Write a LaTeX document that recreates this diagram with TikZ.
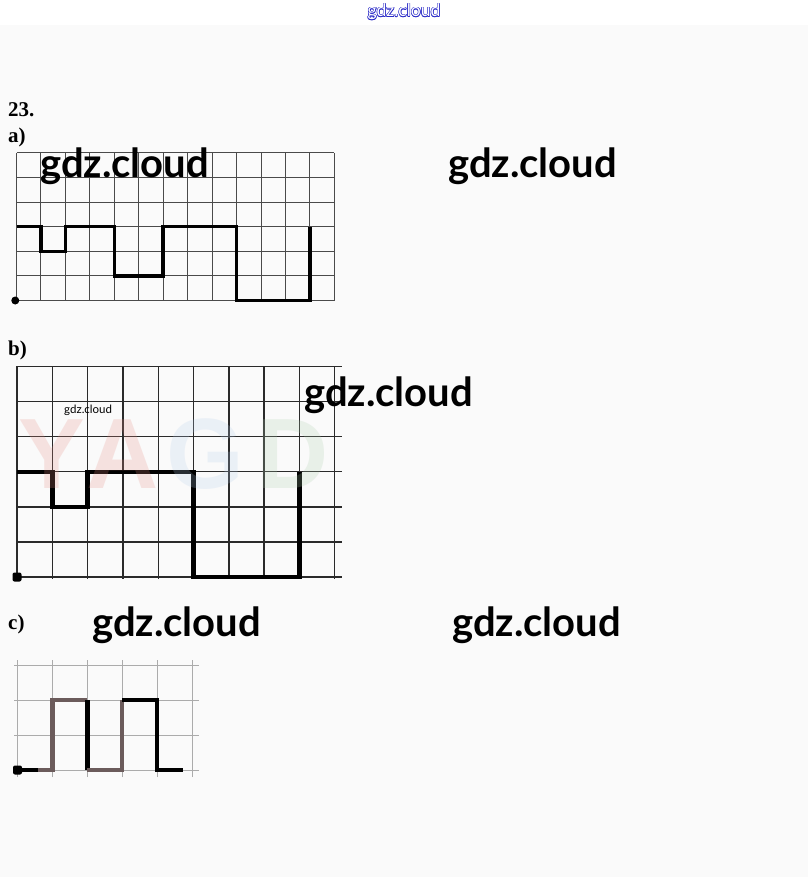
\documentclass[tikz,border=0pt]{standalone}
\usepackage{fontspec}
\setmainfont{Liberation Serif}
\newfontfamily\latofont{Lato}
\newfontfamily\wmsans{Liberation Sans}
\usepackage{xcolor}
\definecolor{pagegray}{HTML}{FAFAFA}
\definecolor{gridgray}{HTML}{4A4A4A}
\definecolor{griddark}{HTML}{2A2A2A}
\definecolor{gridlight}{HTML}{ABABAB}
\definecolor{tracebrown}{HTML}{6B5B5B}
\definecolor{linkblue}{HTML}{2A2AC8}
\definecolor{wmred}{HTML}{E68C82}
\definecolor{wmblue}{HTML}{B4CDEB}
\definecolor{wmgreen}{HTML}{AACDAA}
\tikzset{
  grid line/.style={draw=gridgray,line width=1pt},
  dark grid line/.style={draw=griddark,line width=1.4pt},
  light grid line/.style={draw=gridlight,line width=0.9pt},
  trace/.style={draw=black,line width=3.6pt,line join=miter},
  thick trace/.style={draw=black,line width=4.4pt,line join=miter},
  start dot/.style={circle,fill=black,inner sep=0pt,minimum size=8pt},
  start square/.style={rectangle,rounded corners=2pt,fill=black,inner sep=0pt,minimum size=9pt},
  part label/.style={anchor=base west,inner sep=0pt,font=\bfseries\fontsize{21}{21}\selectfont},
  site text/.style={anchor=base west,inner sep=0pt,font=\latofont\bfseries\fontsize{40}{40}\selectfont},
  small site text/.style={anchor=base west,inner sep=0pt,font=\latofont\fontsize{11.5}{12}\selectfont},
  link text/.style={anchor=base,inner sep=0pt,font=\latofont\fontsize{17.5}{17.5}\selectfont},
  letter/.style={anchor=base west,inner sep=0pt,opacity=0.22,font=\wmsans\bfseries\fontsize{100}{100}\selectfont}
}
\begin{document}
\begin{tikzpicture}[x=1pt,y=-1pt]
  \useasboundingbox (0,0) rectangle (808,877);
  \fill[white] (0,0) rectangle (808,25);
  \fill[pagegray] (0,25) rectangle (808,877);

  % outlined link at the top
  \foreach \a [count=\k] in {0,45,...,315}
    \node[link text,text=linkblue,shift={(\a:0.6)}] (lk\k) at (404,17) {gdz.cloud};
  \node[link text,text=white] (link) at (404,17) {gdz.cloud};

  % labels
  \node[part label] (num) at (8,117) {23.};
  \node[part label] (parta) at (8,143) {a)};
  \node[part label] (partb) at (8,355) {b)};
  \node[part label] (partc) at (8,629) {c)};

  % a)
  \begin{scope}[shift={(16.5,300.5)},x=24.45pt,y=24.6pt]
    \foreach \i in {0,...,13}
      \draw[grid line] (\i,0) -- (\i,6);
    \foreach \j in {0,...,6}
      \draw[grid line] (0,\j) -- (13,\j);
    \draw[trace] (0,3) -- (1,3) -- (1,2) -- (2,2) -- (2,3) -- (4,3) -- (4,1)
      -- (6,1) -- (6,3) -- (9,3) -- (9,0) -- (12,0) -- (12,3);
    \node[start dot] (dota) at (-0.05,0) {};
  \end{scope}

  % b)
  \begin{scope}[shift={(17,577)},x=35.3pt,y=35.1pt]
    \foreach \i in {0,...,9}
      \draw[dark grid line] (\i,-0.05) -- (\i,6);
    \foreach \j in {0,...,6}
      \draw[dark grid line] (0,\j) -- (9.2,\j);
    \draw[thick trace] (0,3) -- (1,3) -- (1,2) -- (2,2) -- (2,3) -- (5,3) -- (5,0)
      -- (8,0) -- (8,3);
    \node[start square] (dotb) at (0,0) {};
  \end{scope}
  \node[letter,text=wmred] (wmy) at (18,488) {Y};
  \node[letter,text=wmred] (wma) at (86,488) {A};
  \node[letter,text=wmblue] (wmg) at (166,488) {G};
  \node[letter,text=wmgreen] (wmd) at (256,488) {D};

  % c)
  \begin{scope}[shift={(17.5,770)},x=34.9pt,y=35pt]
    \foreach \i in {0,...,5}
      \draw[light grid line] (\i,-0.2) -- (\i,3.15);
    \foreach \j in {0,...,3}
      \draw[light grid line] (-0.1,\j) -- (5.2,\j);
    \draw[thick trace] (0,0) -- (0.6,0);
    \draw[thick trace,draw=tracebrown] (0.6,0) -- (1,0) -- (1,2) -- (2,2);
    \draw[thick trace] (2,2) -- (2,0);
    \draw[thick trace,draw=tracebrown] (2,0) -- (3,0) -- (3,2);
    \draw[thick trace] (3,2) -- (4,2) -- (4,0) -- (4.75,0);
    \node[start square] (dotc) at (0,0) {};
  \end{scope}

  % site marks
  \node[site text] (gdz1) at (40,178) {gdz.cloud};
  \node[site text] (gdz2) at (448,178) {gdz.cloud};
  \node[site text] (gdz3) at (304,406) {gdz.cloud};
  \node[site text] (gdz4) at (92,636) {gdz.cloud};
  \node[site text] (gdz5) at (452,636) {gdz.cloud};
  \node[small site text] (gdz6) at (64,413) {gdz.cloud};
\end{tikzpicture}
\end{document}
